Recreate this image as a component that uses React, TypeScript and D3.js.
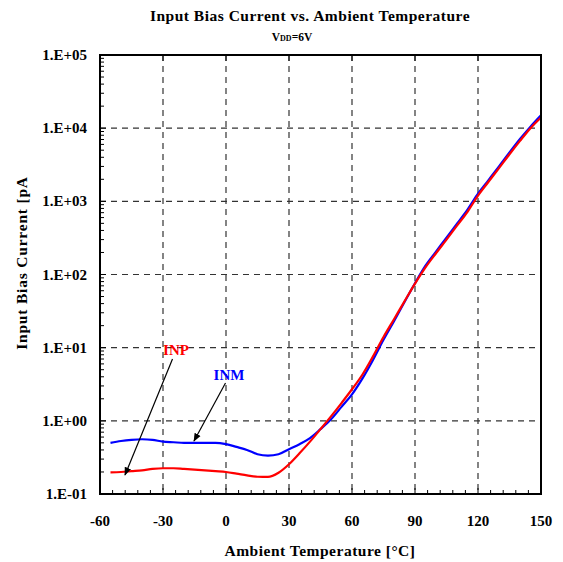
import React from "react";
import * as d3 from "d3";

const temps = [-55, -50, -45, -40, -35, -30, -25, -20, -15, -10, -5, 0, 5, 10, 15, 20, 25, 30, 35, 40, 45, 50, 55, 60, 65, 70, 75, 80, 85, 90, 95, 100, 105, 110, 115, 120, 125, 130, 135, 140, 145, 150];
const inm = [0.50, 0.53, 0.55, 0.56, 0.55, 0.52, 0.51, 0.50, 0.50, 0.50, 0.50, 0.48, 0.44, 0.40, 0.35, 0.335, 0.35, 0.41, 0.48, 0.58, 0.77, 1.05, 1.55, 2.3, 3.8, 6.8, 12.8, 23, 42, 76, 132, 205, 320, 495, 770, 1270, 1950, 3000, 4650, 7100, 10500, 15000];
const inp = [0.198, 0.20, 0.205, 0.21, 0.22, 0.225, 0.225, 0.22, 0.215, 0.21, 0.205, 0.20, 0.19, 0.18, 0.172, 0.171, 0.195, 0.255, 0.36, 0.52, 0.77, 1.15, 1.75, 2.7, 4.3, 7.6, 14, 24.5, 43, 75, 125, 195, 300, 465, 720, 1200, 1850, 2850, 4400, 6700, 10000, 14000];
const xTicks = [-60, -30, 0, 30, 60, 90, 120, 150];
const yTicks = [0.1, 1, 10, 100, 1000, 10000, 100000];
const yTickLabels = ["1.E-01", "1.E+00", "1.E+01", "1.E+02", "1.E+03", "1.E+04", "1.E+05"];

const FONT = '"Liberation Serif", "Times New Roman", serif';

export default function App() {
  const W = 563, H = 562;
  const L = 100, R = 541, T = 55, B = 494;
  const x = d3.scaleLinear().domain([-60, 150]).range([L, R]);
  const y = d3.scaleLog().domain([0.1, 100000]).range([B, T]);

  const line = d3
    .line<number>()
    .x((_, i) => x(temps[i]))
    .y((d) => y(d))
    .curve(d3.curveMonotoneX);

  const minorX = d3.range(-60, 151, 6);
  const minorY: number[] = [];
  for (let e = -1; e < 5; e++) {
    for (let k = 2; k <= 9; k++) minorY.push(k * Math.pow(10, e));
  }

  return (
    <svg width={W} height={H} style={{ position: "absolute", left: 0, top: 0, background: "#fff" }} fontFamily={FONT}>
      <rect x={0} y={0} width={W} height={H} fill="#fff" />
      <text x={310} y={21} textAnchor="middle" fontSize={15.5} fontWeight="bold" letterSpacing={0.5}>
        Input Bias Current vs. Ambient Temperature
      </text>
      <text x={292} y={41} textAnchor="middle" fontSize={11.5} fontWeight="bold">
        V<tspan fontSize={8}>DD</tspan>=6V
      </text>

      {/* grid */}
      {xTicks.slice(1, -1).map((t) => (
        <line key={"gx" + t} x1={x(t)} x2={x(t)} y1={T} y2={B} stroke="#333" strokeWidth={1.2} strokeDasharray="6,5" />
      ))}
      {yTicks.slice(1, -1).map((t) => (
        <line key={"gy" + t} x1={L} x2={R} y1={y(t)} y2={y(t)} stroke="#333" strokeWidth={1.2} strokeDasharray="6,5" />
      ))}

      {/* minor ticks */}
      {minorX.map((t) => (
        <line key={"mx" + t} x1={x(t)} x2={x(t)} y1={B} y2={B - (t % 30 === 0 ? 6 : 4)} stroke="#000" strokeWidth={1} />
      ))}
      {xTicks.map((t) => (
        <line key={"tx" + t} x1={x(t)} x2={x(t)} y1={T} y2={T + 6} stroke="#000" strokeWidth={1} />
      ))}
      {minorY.map((v) => (
        <line key={"my" + v} x1={L} x2={L + 4} y1={y(v)} y2={y(v)} stroke="#000" strokeWidth={1} />
      ))}
      {yTicks.map((v) => (
        <line key={"ty" + v} x1={L} x2={L + 6} y1={y(v)} y2={y(v)} stroke="#000" strokeWidth={1} />
      ))}

      {/* data */}
      <path d={line(inm) || ""} fill="none" stroke="#0000ff" strokeWidth={2.2} />
      <path d={line(inp) || ""} fill="none" stroke="#ff0000" strokeWidth={2.2} />

      {/* frame */}
      <rect x={L} y={T} width={R - L} height={B - T} fill="none" stroke="#000" strokeWidth={2} />

      {/* tick labels */}
      {yTicks.map((v, i) => (
        <text key={"yl" + v} x={87} y={y(v) + 5} textAnchor="end" fontSize={15} fontWeight="bold">
          {yTickLabels[i]}
        </text>
      ))}
      {xTicks.map((t) => (
        <text key={"xl" + t} x={x(t)} y={526} textAnchor="middle" fontSize={15} fontWeight="bold">
          {t}
        </text>
      ))}

      <text x={320} y={556} textAnchor="middle" fontSize={15.5} fontWeight="bold" letterSpacing={0.5}>
        Ambient Temperature [°C]
      </text>
      <text transform={`translate(27,${263}) rotate(-90)`} textAnchor="middle" fontSize={15.5} fontWeight="bold" letterSpacing={0.8}>
        Input Bias Current [pA
      </text>

      {/* annotations */}
      <defs>
        <marker id="arr" viewBox="0 0 10 10" refX="9" refY="5" markerWidth="7" markerHeight="7" orient="auto">
          <path d="M0,1 L10,5 L0,9 z" fill="#000" />
        </marker>
      </defs>
      <text x={176} y={355} textAnchor="middle" fontSize={15} fontWeight="bold" fill="#ff0000">INP</text>
      <line x1={172.5} y1={359} x2={125} y2={475} stroke="#000" strokeWidth={1.2} markerEnd="url(#arr)" />
      <text x={229} y={380} textAnchor="middle" fontSize={15} fontWeight="bold" fill="#0000ff">INM</text>
      <line x1={225.5} y1={383} x2={194} y2={441} stroke="#000" strokeWidth={1.2} markerEnd="url(#arr)" />
    </svg>
  );
}
